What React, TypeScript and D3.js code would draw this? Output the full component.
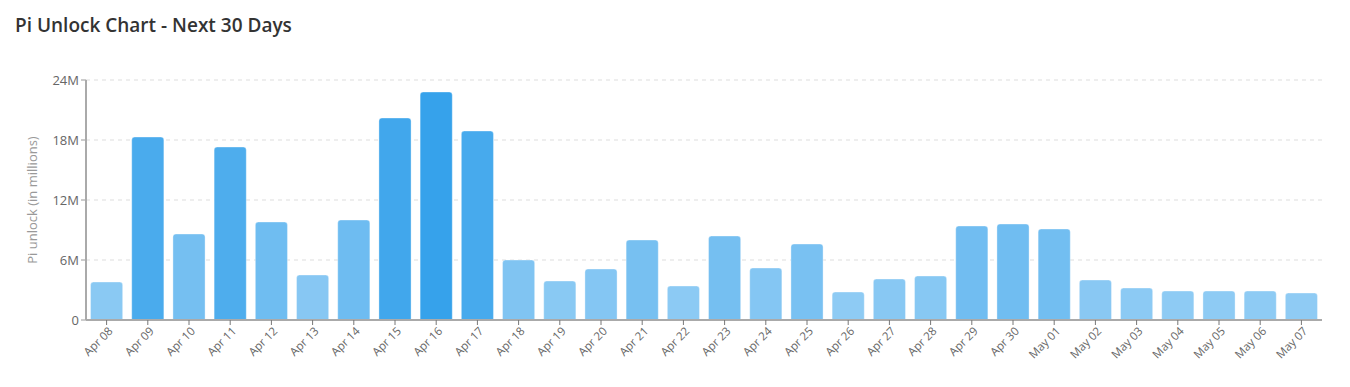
import React from "react";
import * as d3 from "d3";

const categories = ["Apr 08","Apr 09","Apr 10","Apr 11","Apr 12","Apr 13","Apr 14","Apr 15","Apr 16","Apr 17","Apr 18","Apr 19","Apr 20","Apr 21","Apr 22","Apr 23","Apr 24","Apr 25","Apr 26","Apr 27","Apr 28","Apr 29","Apr 30","May 01","May 02","May 03","May 04","May 05","May 06","May 07"];
const unlockValues = [3.8,18.3,8.6,17.3,9.8,4.5,10.0,20.2,22.8,18.9,6.0,3.9,5.1,8.0,3.4,8.4,5.2,7.6,2.8,4.1,4.4,9.4,9.6,9.1,4.0,3.2,2.9,2.9,2.9,2.7];
const yTicks = [0,6,12,18,24];
const title = "Pi Unlock Chart - Next 30 Days";
const yTitle = "Pi unlock (in millions)";

const W = 1350, H = 387;
const left = 86, right = 1322, top = 80, bottom = 320;

export default function App() {
  const x = d3.scaleBand<string>().domain(categories).range([left, right]).paddingInner(0.22).paddingOuter(0.11);
  const y = d3.scaleLinear().domain([0, 24]).range([bottom, top]);
  const maxV = d3.max(unlockValues) as number;
  const color = (v: number) => {
    const a = 0.5 + 0.5 * v / maxV;
    const c = d3.rgb(54 * a + 255 * (1 - a), 162 * a + 255 * (1 - a), 235 * a + 255 * (1 - a));
    return c.formatHex();
  };
  const barPath = (x0: number, y0: number, w: number, h: number, r: number) => {
    const rr = Math.min(r, h, w / 2);
    return `M${x0},${y0 + h}V${y0 + rr}Q${x0},${y0} ${x0 + rr},${y0}H${x0 + w - rr}Q${x0 + w},${y0} ${x0 + w},${y0 + rr}V${y0 + h}Z`;
  };
  const font = "'Open Sans', 'Noto Sans', sans-serif";
  return (
    <svg width={W} height={H} style={{ position: "absolute", left: 0, top: 0, fontFamily: font }}>
      <rect width={W} height={H} fill="#fff" />
      <text x={15} y={32} fontSize={19} fontWeight={600} fill="#333">{title}</text>
      {yTicks.map((t) => (
        <g key={t}>
          {t > 0 && <line x1={left} x2={right} y1={y(t)} y2={y(t)} stroke="#ddd" strokeDasharray="4,4" />}
          <line x1={left - 5} x2={left} y1={y(t)} y2={y(t)} stroke="#999" />
          <text x={left - 7} y={y(t)} dy="0.35em" textAnchor="end" fontSize={13} fill="#666">{t === 0 ? "0" : `${t}M`}</text>
        </g>
      ))}
      <text transform={`translate(37,${(top + bottom) / 2}) rotate(-90)`} textAnchor="middle" fontSize={13} fill="#999">{yTitle}</text>
      {categories.map((c, i) => {
        const v = unlockValues[i];
        const bx = x(c) as number;
        const bw = x.bandwidth();
        const by = y(v);
        return (
          <path key={c} d={barPath(bx, by, bw, bottom - by, 3)} fill={color(v)} stroke="rgba(255,255,255,0.35)" strokeWidth={1} />
        );
      })}
      <line x1={left} x2={left} y1={top} y2={bottom} stroke="#aaa" strokeWidth={2} />
      <line x1={left} x2={right} y1={bottom} y2={bottom} stroke="#aaa" strokeWidth={2} />
      {categories.map((c) => {
        const cx = (x(c) as number) + x.bandwidth() / 2;
        return (
          <g key={c}>
            <line x1={cx} x2={cx} y1={bottom} y2={bottom + 5} stroke="#777" />
            <text transform={`translate(${cx + 4},${bottom + 9}) rotate(-45)`} textAnchor="end" dy="0.35em" fontSize={11.5} fill="#666">{c}</text>
          </g>
        );
      })}
    </svg>
  );
}
